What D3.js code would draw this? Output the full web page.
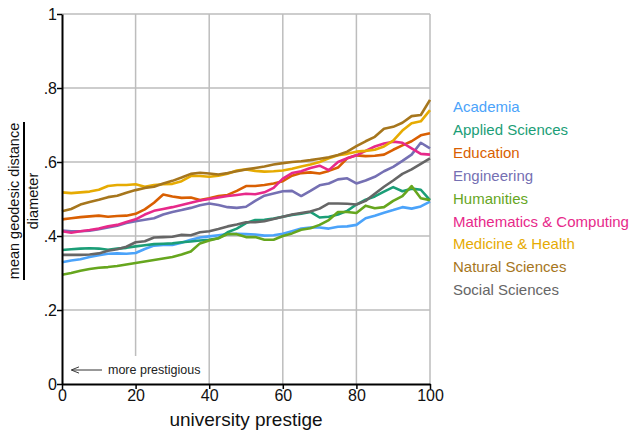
<!DOCTYPE html>
<html>
<head>
<meta charset="utf-8">
<script src="https://cdn.jsdelivr.net/npm/d3@7"></script>
<style>
  body { margin: 0; background: #fff; }
  text { font-family: "Liberation Sans", Arial, sans-serif; }
</style>
</head>
<body>
<svg width="643" height="436"></svg>
<script>
const prestige = [0, 2.5, 5, 7.5, 10, 12.5, 15, 17.5, 20, 22.5, 25, 27.5, 30, 32.5, 35, 37.5, 40, 42.5, 45, 47.5,
  50, 52.5, 55, 57.5, 60, 62.5, 65, 67.5, 70, 72.5, 75, 77.5, 80, 82.5, 85, 87.5, 90, 92.5, 95, 97.5, 100]

const fields = ["Academia", "Applied Sciences", "Education", "Engineering", "Humanities",
  "Mathematics & Computing", "Medicine & Health", "Natural Sciences", "Social Sciences"]

const fieldColors = ["#4ba3fa", "#1b9e77", "#d95f02", "#7570b3", "#66a61e", "#e7298a", "#e6ab02", "#a6761d", "#666666"]

const academia = [.329, .334, .337, .343, .348, .352, .353, .352, .354, .365, .374, .376, .376, .382, .39, .396, .399, .402, .405, .406,
  .405, .404, .401, .402, .406, .413, .42, .423, .423, .42, .425, .426, .43, .448, .455, .463, .47, .478, .474, .48, .493]
const applied = [.362, .364, .366, .367, .366, .363, .366, .368, .372, .375, .378, .379, .38, .383, .385, .388, .39, .394, .41, .42,
  .435, .443, .444, .447, .452, .457, .46, .465, .45, .452, .458, .468, .485, .498, .507, .52, .532, .521, .528, .525, .497]
const education = [.445, .448, .451, .453, .455, .452, .454, .455, .46, .472, .49, .512, .507, .503, .504, .497, .502, .508, .511, .522,
  .535, .535, .538, .542, .548, .563, .57, .572, .569, .576, .585, .61, .618, .616, .617, .62, .633, .645, .656, .672, .678]
const engineering = [.415, .413, .413, .414, .418, .423, .428, .435, .44, .444, .448, .458, .465, .47, .476, .483, .488, .484, .478, .476,
  .479, .495, .509, .515, .521, .522, .508, .522, .537, .542, .553, .556, .542, .55, .56, .575, .587, .603, .62, .652, .637]
const humanities = [.295, .3, .306, .311, .314, .316, .319, .323, .327, .331, .335, .339, .343, .35, .358, .38, .388, .394, .405, .405,
  .397, .397, .39, .39, .4, .407, .417, .421, .43, .443, .465, .465, .462, .482, .475, .478, .495, .508, .535, .502, .497]
const mathematics = [.413, .409, .413, .416, .42, .426, .43, .438, .445, .458, .468, .473, .478, .484, .49, .496, .5, .504, .508, .511,
  .514, .513, .518, .53, .555, .57, .575, .584, .59, .578, .6, .61, .618, .63, .642, .65, .655, .652, .637, .622, .62]
const medicine = [.518, .516, .518, .52, .525, .535, .538, .538, .54, .533, .538, .54, .541, .548, .562, .562, .56, .563, .568, .577,
  .58, .576, .574, .575, .577, .582, .588, .593, .6, .61, .618, .622, .628, .63, .633, .642, .658, .685, .705, .71, .74]
const natural = [.467, .473, .485, .492, .498, .505, .509, .517, .524, .53, .533, .542, .549, .558, .568, .571, .569, .566, .57, .575,
  .58, .584, .588, .593, .597, .6, .602, .605, .609, .613, .619, .628, .643, .656, .668, .69, .695, .706, .724, .727, .768]
const social = [.349, .349, .349, .35, .353, .36, .364, .371, .383, .386, .396, .397, .398, .403, .402, .41, .413, .419, .426, .431,
  .437, .437, .44, .446, .452, .458, .462, .466, .474, .488, .488, .487, .485, .495, .514, .533, .55, .568, .58, .595, .61]

const seriesValues = [academia, applied, education, engineering, humanities, mathematics, medicine, natural, social]

const xTicks = [0, 20, 40, 60, 80, 100]
const yTicks = [0, .2, .4, .6, .8, 1]
const yTickLabels = ["0", ".2", ".4", ".6", ".8", "1"]

const svg = d3.select("svg")

const x = d3.scaleLinear().domain([0, 100]).range([62, 430])
const y = d3.scaleLinear().domain([0, 1]).range([384, 14])

// grid
const grid = svg.append("g").attr("stroke", "#bdbdbd").attr("stroke-width", 1.5)
grid.selectAll("line.h")
  .data(yTicks.slice(1))
  .enter().append("line")
  .attr("x1", x(0)).attr("x2", x(100))
  .attr("y1", d => y(d)).attr("y2", d => y(d))
grid.selectAll("line.v")
  .data(xTicks.slice(1))
  .enter().append("line")
  .attr("x1", d => x(d)).attr("x2", d => x(d))
  .attr("y1", y(1))
  .attr("y2", d => d == 20 ? 356 : y(0))

// lines
const line = d3.line()
  .x((d, i) => x(prestige[i]))
  .y(d => y(d))

svg.append("g")
  .selectAll("path")
  .data(seriesValues)
  .enter().append("path")
  .attr("fill", "none")
  .attr("stroke", (d, i) => fieldColors[i])
  .attr("stroke-width", 2.6)
  .attr("stroke-linejoin", "round")
  .attr("d", line)

// axes
const xAxis = svg.append("g")
  .attr("transform", "translate(0," + y(0) + ")")
  .call(d3.axisBottom(x).tickValues(xTicks).tickSize(5).tickSizeOuter(0).tickFormat(d3.format("d")))
const yAxis = svg.append("g")
  .attr("transform", "translate(" + x(0) + ",0)")
  .call(d3.axisLeft(y).tickValues(yTicks).tickSize(5).tickSizeOuter(0).tickFormat((d, i) => yTickLabels[i]))

;[xAxis, yAxis].forEach(ax => {
  ax.select(".domain").attr("stroke", "#000").attr("stroke-width", 2)
  ax.selectAll(".tick line").attr("stroke", "#000").attr("stroke-width", 1.5)
  ax.selectAll(".tick text").attr("fill", "#111").style("font-size", "16px")
})
xAxis.selectAll(".tick text").attr("dy", "0.68em").attr("y", 6)
yAxis.selectAll(".tick text").attr("x", -5)

svg.append("text")
  .attr("x", x(50)).attr("y", 426)
  .attr("text-anchor", "middle")
  .style("font-size", "19px")
  .attr("fill", "#111")
  .text("university prestige")

// y label as fraction
const yl = svg.append("g").attr("transform", "translate(0,201) rotate(-90)")
yl.append("text")
  .attr("x", 0).attr("y", 19)
  .attr("text-anchor", "middle")
  .style("font-size", "14.5px")
  .attr("fill", "#111")
  .text("mean geodesic distance")
yl.append("line")
  .attr("x1", -79).attr("x2", 79)
  .attr("y1", 24).attr("y2", 24)
  .attr("stroke", "#000").attr("stroke-width", 2)
yl.append("text")
  .attr("x", 0).attr("y", 38)
  .attr("text-anchor", "middle")
  .style("font-size", "14.5px")
  .attr("fill", "#111")
  .text("diameter")

// annotation
svg.append("defs").append("marker")
  .attr("id", "arrow")
  .attr("viewBox", "0 -5 10 10")
  .attr("refX", 9)
  .attr("refY", 0)
  .attr("markerWidth", 8)
  .attr("markerHeight", 8)
  .attr("markerUnits", "userSpaceOnUse")
  .attr("orient", "auto")
  .append("path")
  .attr("d", "M0,-4L10,0L0,4")
  .attr("fill", "none")
  .attr("stroke", "#333")
  .attr("stroke-width", 1.2)
svg.append("line")
  .attr("x1", 102).attr("x2", 72)
  .attr("y1", 370).attr("y2", 370)
  .attr("stroke", "#333").attr("stroke-width", 1)
  .attr("marker-end", "url(#arrow)")
svg.append("text")
  .attr("x", 108).attr("y", 374)
  .style("font-size", "12.5px")
  .attr("fill", "#222")
  .text("more prestigious")

// legend
svg.append("g")
  .selectAll("text")
  .data(fields)
  .enter().append("text")
  .attr("x", 453)
  .attr("y", (d, i) => 112 + i * 22.9)
  .attr("fill", (d, i) => fieldColors[i])
  .style("font-size", "15px")
  .text(d => d)
</script>
</body>
</html>
